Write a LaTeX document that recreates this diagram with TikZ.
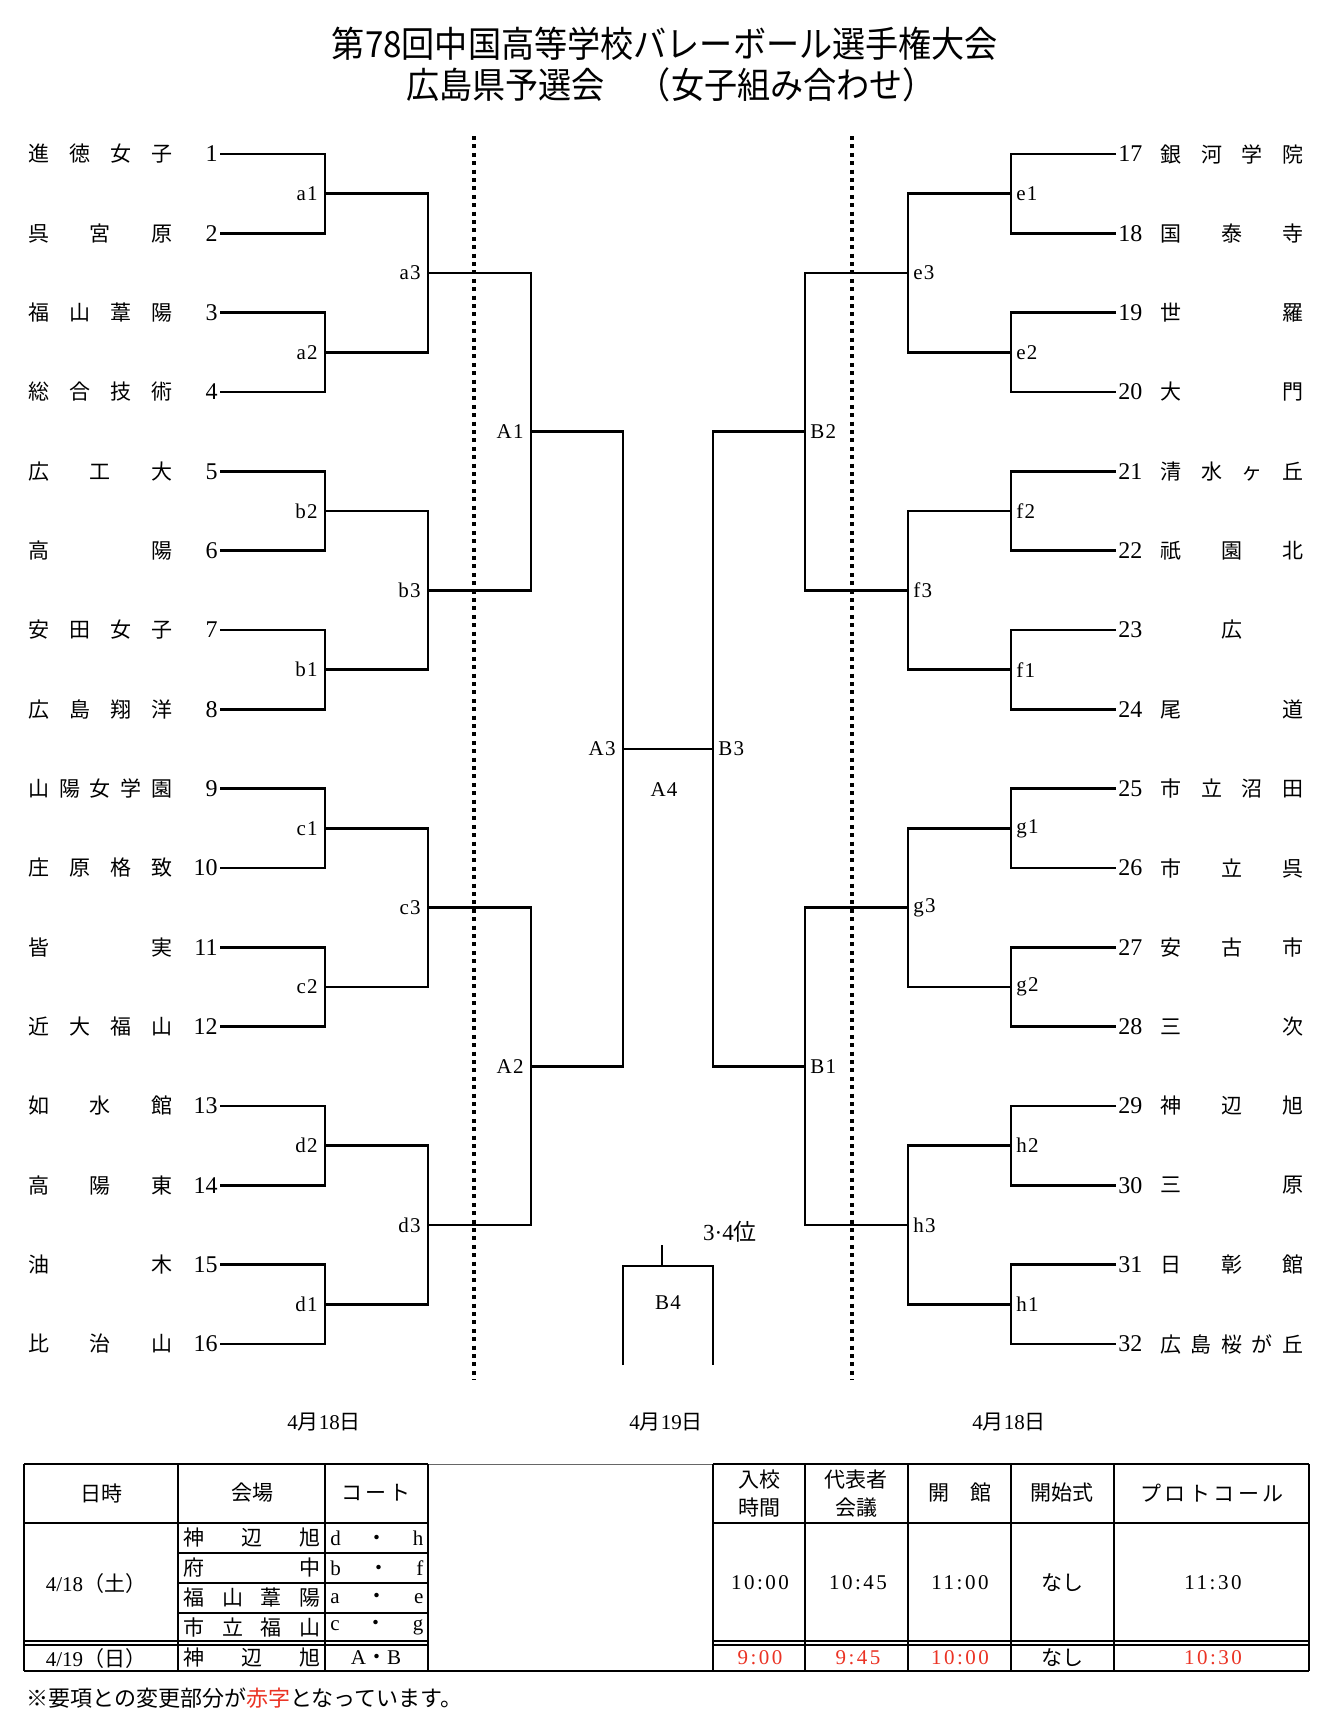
\documentclass[tikz,border=0pt]{standalone}
\usepackage{fontspec}
\setmainfont{Liberation Serif}
\newfontfamily\jp{Noto Sans CJK JP}
\newfontfamily\jpt[FakeStretch=0.92]{Noto Sans CJK JP}
\newfontfamily\sprd[LetterSpace=12]{Liberation Serif}
\newfontfamily\lblf[LetterSpace=6]{Liberation Serif}
\definecolor{redtxt}{RGB}{235,51,36}
\begin{document}
\begin{tikzpicture}[x=0.5pt,y=-0.5pt,
  br/.style={line width=1.3pt,line join=miter},
  dotline/.style={line width=2pt,dash pattern=on 2pt off 2.2pt},
  tbl/.style={line width=1.2pt},
  thinrule/.style={line width=0.5pt,black!60},
  nm/.style={inner sep=0pt,font=\fontsize{10.5}{12}\selectfont\jp},
  num/.style={inner sep=1pt,font=\fontsize{12}{13}\selectfont},
  lbl/.style={inner sep=0pt,font=\fontsize{10.5}{12}\selectfont\lblf},
  cell/.style={inner sep=0pt,font=\fontsize{10.5}{12}\selectfont\jp},
  tm/.style={inner sep=0pt,font=\fontsize{10.5}{12}\selectfont\sprd},
]
\useasboundingbox[fill=white] (0,0) rectangle (1330,1713);

% title
\node[inner sep=0pt,font=\fontsize{18}{20}\selectfont\jpt] (title1) at (665,44) {第78回中国高等学校バレーボール選手権大会};
\node[inner sep=0pt,font=\fontsize{18}{20}\selectfont\jpt] (title2) at (671,85) {広島県予選会　（女子組み合わせ）};

% left teams
\foreach \i/\nmtxt in {1/{進\hfill 徳\hfill 女\hfill 子},2/{呉\hfill 宮\hfill 原},3/{福\hfill 山\hfill 葦\hfill 陽},4/{総\hfill 合\hfill 技\hfill 術},5/{広\hfill 工\hfill 大},6/{高\hfill 陽},7/{安\hfill 田\hfill 女\hfill 子},8/{広\hfill 島\hfill 翔\hfill 洋},9/{山\hfill 陽\hfill 女\hfill 学\hfill 園},10/{庄\hfill 原\hfill 格\hfill 致},11/{皆\hfill 実},12/{近\hfill 大\hfill 福\hfill 山},13/{如\hfill 水\hfill 館},14/{高\hfill 陽\hfill 東},15/{油\hfill 木},16/{比\hfill 治\hfill 山}}{
  \node[nm,anchor=west] (name\i) at (28,{154+(\i-1)*79.333}) {\makebox[72pt][s]{\nmtxt}};
  \node[num,anchor=east] (n\i) at (220,{154+(\i-1)*79.333}) {\i};
}
% right teams
\foreach \i/\nmtxt in {17/{銀\hfill 河\hfill 学\hfill 院},18/{国\hfill 泰\hfill 寺},19/{世\hfill 羅},20/{大\hfill 門},21/{清\hfill 水\hfill ヶ\hfill 丘},22/{祇\hfill 園\hfill 北},23/{\hfill 広\hfill},24/{尾\hfill 道},25/{市\hfill 立\hfill 沼\hfill 田},26/{市\hfill 立\hfill 呉},27/{安\hfill 古\hfill 市},28/{三\hfill 次},29/{神\hfill 辺\hfill 旭},30/{三\hfill 原},31/{日\hfill 彰\hfill 館},32/{広\hfill 島\hfill 桜\hfill が\hfill 丘}}{
  \node[nm,anchor=west] (name\i) at (1160,{154+(\i-17)*79.333}) {\makebox[71.5pt][s]{\nmtxt}};
  \node[num,anchor=west] (n\i) at (1116,{154+(\i-17)*79.333}) {\i};
}

% match points
\foreach \m/\k in {a1/0,a2/1,b2/2,b1/3,c1/4,c2/5,d2/6,d1/7}{
  \coordinate (\m) at (325,{154+(2*\k+0.5)*79.333});
  \node[lbl,anchor=east] (L\m) at ([xshift=-3.5pt]\m) {\m};
}
\foreach \m/\k in {e1/0,e2/1,f2/2,f1/3,g1/4,g2/5,h2/6,h1/7}{
  \coordinate (\m) at (1011,{154+(2*\k+0.5)*79.333});
  \node[lbl,anchor=west] (L\m) at ([xshift=2.5pt]\m) {\m};
}
\foreach \m/\k in {a3/0,b3/1,c3/2,d3/3}{
  \coordinate (\m) at (428,{154+(4*\k+1.5)*79.333});
  \node[lbl,anchor=east] (L\m) at ([xshift=-3.5pt]\m) {\m};
}
\foreach \m/\k in {e3/0,f3/1,g3/2,h3/3}{
  \coordinate (\m) at (908,{154+(4*\k+1.5)*79.333});
  \node[lbl,anchor=west] (L\m) at ([xshift=2.5pt]\m) {\m};
}
\foreach \m/\k in {A1/0,A2/1}{
  \coordinate (\m) at (531,{154+(8*\k+3.5)*79.333});
  \node[lbl,anchor=east] (L\m) at ([xshift=-3.5pt]\m) {\m};
}
\foreach \m/\k in {B2/0,B1/1}{
  \coordinate (\m) at (805,{154+(8*\k+3.5)*79.333});
  \node[lbl,anchor=west] (L\m) at ([xshift=2.5pt]\m) {\m};
}
\coordinate (A3) at (623,749);
\coordinate (B3) at (713,749);
\node[lbl,anchor=east] (LA3) at ([xshift=-3.5pt]A3) {A3};
\node[lbl,anchor=west] (LB3) at ([xshift=2.5pt]B3) {B3};
\node[lbl] (LA4) at (664,790) {A4};

% bracket lines
\foreach \m/\p/\q in {a1/1/2,a2/3/4,b2/5/6,b1/7/8,c1/9/10,c2/11/12,d2/13/14,d1/15/16}
  \draw[br] (n\p.east) -| (\m) |- (n\q.east);
\foreach \m/\p/\q in {e1/17/18,e2/19/20,f2/21/22,f1/23/24,g1/25/26,g2/27/28,h2/29/30,h1/31/32}
  \draw[br] (n\p.west) -| (\m) |- (n\q.west);
\foreach \m/\p/\q in {a3/a1/a2,b3/b2/b1,c3/c1/c2,d3/d2/d1,e3/e1/e2,f3/f2/f1,g3/g1/g2,h3/h2/h1,A1/a3/b3,A2/c3/d3,B2/e3/f3,B1/g3/h3,A3/A1/A2,B3/B2/B1}
  \draw[br] (\p) -| (\m) |- (\q);
\draw[br] (A3) -- (B3);

% 3rd place
\coordinate (B4a) at (623,1365);
\coordinate (B4b) at (713,1365);
\coordinate (B4m) at (662,1266);
\coordinate (B4t) at (662,1245);
\draw[br] (B4a) |- (B4m) -| (B4b);
\draw[br] (B4t) -- (B4m);
\node[lbl] (LB4) at (668,1303) {B4};
\node[inner sep=0pt,font=\fontsize{11.5}{13}\selectfont] (third) at (730,1232) {3·4{\jp 位}};

% dotted day separators
\coordinate (dl1t) at (474,136); \coordinate (dl1b) at (474,1380);
\coordinate (dl2t) at (852,136); \coordinate (dl2b) at (852,1380);
\draw[dotline] (dl1t) -- (dl1b);
\draw[dotline] (dl2t) -- (dl2b);

% dates
\node[cell] (date1) at (324,1422) {{\rmfamily 4}月{\rmfamily 18}日};
\node[cell] (date2) at (666,1422) {{\rmfamily 4}月{\rmfamily 19}日};
\node[cell] (date3) at (1009,1422) {{\rmfamily 4}月{\rmfamily 18}日};

% table lines
\draw[tbl] (24,1464) -- (428,1464);
\draw[tbl] (713,1464) -- (1309,1464);
\draw[thinrule] (428,1464) -- (713,1464);
\draw[tbl] (24,1671) -- (1309,1671);
\draw[tbl] (24,1523) -- (428,1523);
\draw[tbl] (713,1523) -- (1309,1523);
\foreach \yy in {1553,1583,1613} \draw[tbl] (178,\yy) -- (428,\yy);
\foreach \yy in {1641,1645} {
  \draw[line width=1pt] (24,\yy) -- (428,\yy);
  \draw[line width=1pt] (713,\yy) -- (1309,\yy);
}
\foreach \xx in {24,178,325,428,713,805,908,1011,1114,1309} \draw[tbl] (\xx,1464) -- (\xx,1671);

% table header
\node[cell] (h1) at (101,1493) {日時};
\node[cell] (h2) at (252,1493) {会場};
\node[cell] (h3) at (376,1493) {コ\,ー\,ト};
\node[cell] (h4a) at (759,1480) {入校};
\node[cell] (h4b) at (759,1508) {時間};
\node[cell] (h5a) at (856,1480) {代表者};
\node[cell] (h5b) at (856,1508) {会議};
\node[cell] (h6) at (960,1493) {開　館};
\node[cell] (h7) at (1062,1493) {開始式};
\node[cell] (h8) at (1212,1493) {プ\,ロ\,ト\,コ\,ー\,ル};

% day 1
\node[cell] (r1d) at (96,1583) {{\rmfamily 4/18}（土）};
\foreach \yy/\vv/\cc/\dd in {1538/{神\hfill 辺\hfill 旭}/d/h,1568/{府\hfill 中}/b/f,1598/{福\hfill 山\hfill 葦\hfill 陽}/a/e,1627/{市\hfill 立\hfill 福\hfill 山}/c/g}{
  \node[cell,anchor=west] (v\yy) at (183,\yy) {\makebox[68.5pt][s]{\vv}};
  \node[cell,anchor=west] (c\yy) at (330,\yy) {\makebox[46.5pt][s]{{\rmfamily\cc}\hfill ・\hfill{\rmfamily\dd}}};
}
\node[tm] (t11) at (760,1583) {10:00};
\node[tm] (t12) at (858,1583) {10:45};
\node[tm] (t13) at (960,1583) {11:00};
\node[cell] (t14) at (1062,1583) {なし};
\node[tm] (t15) at (1213,1583) {11:30};

% day 2
\node[cell] (r2d) at (96,1658) {{\rmfamily 4/19}（日）};
\node[cell,anchor=west] (v2) at (183,1658) {\makebox[68.5pt][s]{神\hfill 辺\hfill 旭}};
\node[cell] (c2) at (376,1658) {{\rmfamily A}・{\rmfamily B}};
\node[tm,text=redtxt] (t21) at (760,1658) {9:00};
\node[tm,text=redtxt] (t22) at (858,1658) {9:45};
\node[tm,text=redtxt] (t23) at (960,1658) {10:00};
\node[cell] (t24) at (1062,1658) {なし};
\node[tm,text=redtxt] (t25) at (1213,1658) {10:30};

% footnote
\node[anchor=west,inner sep=0pt,font=\fontsize{11}{12}\selectfont\jp] (note) at (26,1698) {※要項との変更部分が\textcolor{redtxt}{赤字}となっています。};
\end{tikzpicture}
\end{document}
